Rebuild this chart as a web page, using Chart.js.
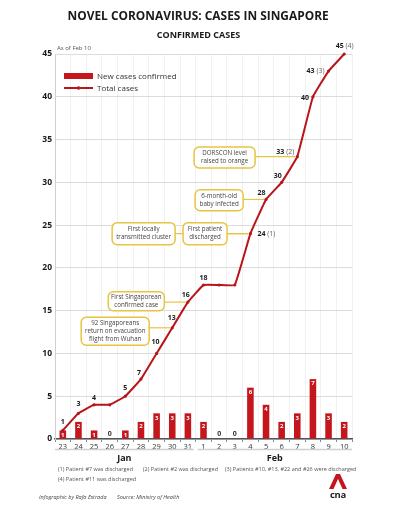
<!DOCTYPE html>
<html>
<head>
<meta charset="utf-8">
<script src="https://cdn.jsdelivr.net/npm/chart.js@4.4.1/dist/chart.umd.min.js"></script>
<style>
  body { margin: 0; background: #fff; font-family: "Open Sans", sans-serif; }
  #wrap { position: relative; width: 397px; height: 506px; overflow: hidden; }
  #c { position: absolute; left: 0; top: 0; }
  .t { position: absolute; white-space: nowrap; color: #444; }
  #title { left: 0; width: 397px; top: 7px; text-align: center; font-weight: 700; font-size: 12.5px; color: #1a1a1a; }
  #sub { left: 0; width: 397px; top: 28px; text-align: center; font-weight: 700; font-size: 9px; color: #1a1a1a; }
  #asof { left: 57px; top: 44px; font-size: 6px; color: #555; }
  .foot { font-size: 5.5px; color: #555; }
  .cred { font-size: 5.5px; font-style: italic; color: #444; top: 493px; }
  #logo { position: absolute; left: 327px; top: 473px; }
</style>
</head>
<body>
<div id="wrap">
  <canvas id="c" width="397" height="506"></canvas>
  <div class="t" id="title">NOVEL CORONAVIRUS: CASES IN SINGAPORE</div>
  <div class="t" id="sub">CONFIRMED CASES</div>
  <div class="t" id="asof">As of Feb 10</div>
  <div class="t foot" style="left:58px;top:465px">(1) Patient #7 was discharged</div>
  <div class="t foot" style="left:143px;top:465px">(2) Patient #2 was discharged</div>
  <div class="t foot" style="left:225px;top:465px">(3) Patients #10, #13, #22 and #26 were discharged</div>
  <div class="t foot" style="left:58px;top:475px">(4) Patient #11 was discharged</div>
  <div class="t cred" style="left:39px">Infographic by Rafa Estrada</div>
  <div class="t cred" style="left:117px">Source: Ministry of Health</div>
  <svg id="logo" width="22" height="28" viewBox="0 0 22 28">
    <polygon points="2,16 9,1 13,1 20,16 15.5,16 11,6 6.5,16" fill="#c4161c"/>
    <text x="11" y="25" text-anchor="middle" font-family="Open Sans" font-weight="700" font-size="9.5" fill="#222" letter-spacing="-0.3">cna</text>
  </svg>
</div>
<script>
// Data
var days = ['23', '24', '25', '26', '27', '28', '29', '30', '31', '1', '2', '3', '4', '5', '6', '7', '8', '9', '10'];
var months = ['Jan', 'Feb'];
var monthLengths = [9, 10];
var newCases = [1, 2, 1, 0, 1, 2, 3, 3, 3, 2, 0, 0, 6, 4, 2, 3, 7, 3, 2];
var totalCases = [1, 3, 4, 4, 5, 7, 10, 13, 16, 18, 18, 18, 24, 28, 30, 33, 40, 43, 45];
var discharges = ['', '', '', '', '', '', '', '', '', '', '', '', '(1)', '', '', '(2)', '', '(3)', '(4)'];
var yMax = 45;
var yStep = 5;

// label placement for the totals: [dx, dy, align]
var totalLabelPos = [
  [0, -8, 'c'], [0, -9, 'c'], [0, -7, 'c'], null, [0, -8, 'c'], [-2, -6, 'c'],
  [-1, -11, 'c'], [-0.5, -9.5, 'c'], [-2, -7.5, 'c'], [0, -7, 'c'], null, null,
  [7, 0, 'l'], [-4.5, -6, 'c'], [-4, -6.5, 'c'], [-3, -5, 'r'], [-4, 1, 'r'],
  [-4, 0, 'r'], [0.5, -8, 'c']
];

// callouts: box centre in (category index, value), box size, target point
var notes = [
  { text: ['92 Singaporeans', 'return on evacuation', 'flight from Wuhan'], x: 3.35, y: 12.6, w: 68, h: 28, target: 7 },
  { text: ['First Singaporean', 'confirmed case'], x: 4.7, y: 16.1, w: 56, h: 19, target: 8 },
  { text: ['First locally', 'transmitted cluster'], x: 5.17, y: 24, w: 63, h: 22, target: 12 },
  { text: ['First patient', 'discharged'], x: 9.1, y: 24, w: 44, h: 22, target: 12 },
  { text: ['6-month-old', 'baby infected'], x: 10.0, y: 27.9, w: 48, h: 21, target: 13 },
  { text: ['DORSCON level', 'raised to orange'], x: 10.35, y: 32.9, w: 61, h: 21, target: 15 }
];

var barColor = '#c4161c';
var lineColor = '#b8151b';
var noteColor = '#e8c443';

var extras = {
  id: 'extras',
  afterDatasetsDraw: function(chart) {
    var c = chart.ctx;
    var xs = chart.scales.x, ys = chart.scales.y;
    var area = chart.chartArea;
    var step = xs.width / days.length;
    var lineMeta = chart.getDatasetMeta(0);
    var barMeta = chart.getDatasetMeta(1);
    c.save();

    // bar value labels
    c.textAlign = 'center';
    c.textBaseline = 'middle';
    barMeta.data.forEach(function(bar, i) {
      if (newCases[i] === 0) {
        c.fillStyle = '#333';
        c.font = 'bold 7px "Open Sans"';
        c.fillText('0', bar.x, area.bottom - 5);
      } else {
        c.fillStyle = '#fff';
        c.font = 'bold 6px "Open Sans"';
        c.fillText(String(newCases[i]), bar.x, bar.y + 4.5);
      }
    });

    // callout connectors
    c.strokeStyle = noteColor;
    c.lineWidth = 1.2;
    notes.forEach(function(n) {
      var pt = lineMeta.data[n.target];
      var bx = xs.getPixelForValue(n.x) + n.w / 2;
      c.beginPath();
      c.moveTo(bx, pt.y);
      c.lineTo(pt.x - 2, pt.y);
      c.stroke();
    });

    // callout boxes
    notes.forEach(function(n) {
      var cx = xs.getPixelForValue(n.x), cy = ys.getPixelForValue(n.y);
      c.beginPath();
      c.roundRect(cx - n.w / 2, cy - n.h / 2, n.w, n.h, 5);
      c.fillStyle = '#fff';
      c.fill();
      c.lineWidth = 1.5;
      c.strokeStyle = noteColor;
      c.stroke();
      c.fillStyle = '#444';
      c.font = '6.2px "Open Sans"';
      var lh = 8;
      var y0 = cy - (n.text.length - 1) * lh / 2;
      n.text.forEach(function(t, k) { c.fillText(t, cx, y0 + k * lh); });
    });

    // total labels
    lineMeta.data.forEach(function(pt, i) {
      var p = totalLabelPos[i];
      if (!p) return;
      c.font = 'bold 7px "Open Sans"';
      var num = String(totalCases[i]);
      var nw = c.measureText(num).width;
      var extra = discharges[i] ? ' ' + discharges[i] : '';
      c.font = '7px "Open Sans"';
      var ew = extra ? c.measureText(extra).width : 0;
      var total = nw + ew;
      var x0 = pt.x + p[0];
      if (p[2] === 'c') x0 -= total / 2;
      else if (p[2] === 'r') x0 -= total;
      var y = pt.y + p[1];
      c.textAlign = 'left';
      c.fillStyle = '#1a1a1a';
      c.font = 'bold 7px "Open Sans"';
      c.fillText(num, x0, y);
      if (extra) {
        c.fillStyle = '#666';
        c.font = '7px "Open Sans"';
        c.fillText(extra, x0 + nw, y);
      }
    });

    // month bands under the day labels
    var start = 0;
    c.textAlign = 'center';
    months.forEach(function(m, k) {
      var x0 = area.left + start * step + (k > 0 ? 2 : 0);
      var x1 = area.left + (start + monthLengths[k]) * step - (k < months.length - 1 ? 2 : 0);
      c.strokeStyle = '#cfcfcf';
      c.lineWidth = 1.5;
      c.beginPath();
      c.moveTo(x0, area.bottom + 10.5);
      c.lineTo(x1, area.bottom + 10.5);
      c.stroke();
      c.fillStyle = '#1a1a1a';
      c.font = 'bold 9px "Open Sans"';
      c.fillText(m, (x0 + x1) / 2, area.bottom + 19);
      start += monthLengths[k];
    });

    // legend
    c.fillStyle = barColor;
    c.fillRect(64, 73, 29, 6);
    c.strokeStyle = lineColor;
    c.lineWidth = 2;
    c.beginPath();
    c.moveTo(64, 88);
    c.lineTo(93, 88);
    c.stroke();
    c.beginPath();
    c.arc(78.5, 88, 1.8, 0, Math.PI * 2);
    c.fillStyle = lineColor;
    c.fill();
    c.textAlign = 'left';
    c.fillStyle = '#333';
    c.font = '8px "Open Sans"';
    c.fillText('New cases confirmed', 97, 76.5);
    c.fillText('Total cases', 97, 88.5);

    c.restore();
  }
};

var chart = new Chart(document.getElementById('c').getContext('2d'), {
  type: 'bar',
  data: {
    labels: days,
    datasets: [{
      type: 'line',
      label: 'Total cases',
      data: totalCases,
      borderColor: lineColor,
      backgroundColor: lineColor,
      borderWidth: 2,
      pointRadius: 1.6,
      pointBackgroundColor: lineColor,
      pointBorderWidth: 0,
      tension: 0.08,
      clip: false,
      order: 0
    }, {
      label: 'New cases confirmed',
      data: newCases,
      backgroundColor: barColor,
      barPercentage: 0.42,
      categoryPercentage: 1,
      order: 1
    }]
  },
  options: {
    responsive: false,
    animation: false,
    layout: { padding: { top: 54, right: 45, left: 0, bottom: 0 } },
    plugins: { legend: { display: false }, tooltip: { enabled: false } },
    scales: {
      x: {
        afterFit: function(s) { s.height = 67; },
        grid: { color: '#f1f1f1', offset: true, tickColor: '#888', tickLength: 3 },
        border: { color: '#555', width: 1.5 },
        ticks: { color: '#333', font: { family: 'Open Sans', size: 7.5 }, padding: 0, maxRotation: 0, autoSkip: false }
      },
      y: {
        min: 0,
        max: yMax,
        afterFit: function(s) { s.width = 55; },
        grid: { color: '#dcdcdc', drawTicks: false },
        border: { color: '#cfcfcf' },
        ticks: { stepSize: yStep, color: '#1a1a1a', padding: 3, font: { family: 'Open Sans', size: 8.5, weight: 'bold' } }
      }
    }
  },
  plugins: [extras]
});

// squeeze the title to the original width
var title = document.getElementById('title');
var span = document.createElement('span');
span.textContent = title.textContent;
title.textContent = '';
title.appendChild(span);
span.style.display = 'inline-block';
var w = span.offsetWidth;
span.style.transform = 'scaleX(' + (261 / w) + ')';
</script>
</body>
</html>
